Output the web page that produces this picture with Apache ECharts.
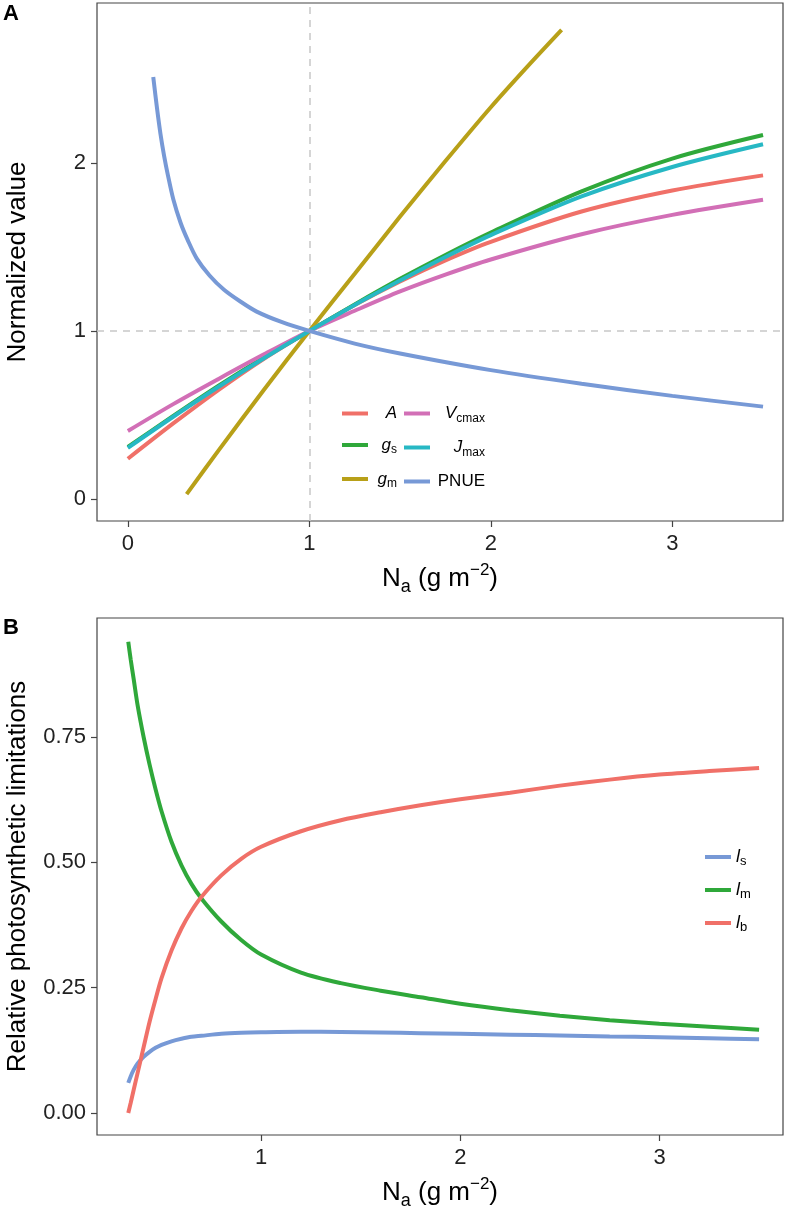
<!DOCTYPE html>
<html>
<head>
<meta charset="utf-8">
<script src="https://cdn.jsdelivr.net/npm/echarts@6/dist/echarts.min.js"></script>
<style>
  html, body { margin: 0; padding: 0; background: #fff; }
  #chart { width: 800px; height: 1208px; }
</style>
</head>
<body>
<div id="chart"></div>
<script>
// panel A: normalized values vs leaf N
const naA = [0, 0.25, 0.5, 0.75, 1, 1.25, 1.5, 1.75, 2, 2.5, 3, 3.5];
const aVals = [0.24, 0.45, 0.65, 0.835, 1.0, 1.155, 1.295, 1.42, 1.53, 1.71, 1.835, 1.925];
const gsVals = [0.31, 0.495, 0.675, 0.843, 1.0, 1.158, 1.31, 1.452, 1.585, 1.83, 2.025, 2.165];
const jmaxVals = [0.305, 0.49, 0.668, 0.838, 1.0, 1.155, 1.30, 1.44, 1.57, 1.80, 1.975, 2.11];
const vcmaxVals = [0.405, 0.565, 0.715, 0.861, 1.0, 1.12, 1.235, 1.335, 1.425, 1.575, 1.69, 1.78];
const naGm = [0.324, 0.5, 0.75, 1, 1.25, 1.5, 1.75, 2, 2.2, 2.39];
const gmVals = [0.03, 0.29, 0.65, 1.0, 1.34, 1.68, 2.01, 2.33, 2.57, 2.79];
const naPnue = [0.14, 0.16, 0.18, 0.2, 0.22, 0.25, 0.29, 0.33, 0.38, 0.45, 0.53, 0.62, 0.71, 0.85, 1, 1.25, 1.5, 2, 2.5, 3, 3.5];
const pnueVals = [2.51, 2.33, 2.17, 2.04, 1.93, 1.785, 1.645, 1.54, 1.43, 1.33, 1.245, 1.175, 1.115, 1.052, 1.0, 0.925, 0.866, 0.767, 0.686, 0.614, 0.55];

// panel B: relative limitations
const naB = [0.333, 0.345, 0.36, 0.38, 0.41, 0.44, 0.47, 0.5, 0.55, 0.6, 0.65, 0.7, 0.8, 0.9, 1.0, 1.2, 1.4, 1.6, 1.8, 2.0, 2.25, 2.5, 2.75, 3.0, 3.25, 3.5];
const lsVals = [0.060, 0.073, 0.086, 0.099, 0.112, 0.122, 0.130, 0.136, 0.143, 0.148, 0.152, 0.154, 0.158, 0.160, 0.161, 0.162, 0.1615, 0.1605, 0.1593, 0.158, 0.1563, 0.1545, 0.1527, 0.151, 0.149, 0.147];
const lmVals = [0.940, 0.905, 0.866, 0.813, 0.750, 0.695, 0.646, 0.602, 0.541, 0.494, 0.457, 0.428, 0.382, 0.345, 0.316, 0.280, 0.259, 0.244, 0.231, 0.218, 0.205, 0.194, 0.185, 0.178, 0.172, 0.166];
const lbVals = [0.000, 0.020, 0.046, 0.080, 0.131, 0.182, 0.227, 0.269, 0.324, 0.368, 0.403, 0.431, 0.474, 0.507, 0.531, 0.562, 0.584, 0.600, 0.614, 0.626, 0.639, 0.653, 0.665, 0.675, 0.682, 0.688];

// ticks
const xTicksA = [0, 1, 2, 3];
const yTicksA = [0, 1, 2];
const xTicksB = [1, 2, 3];
const yTicksB = [0, 0.25, 0.5, 0.75];

const FONT = 'Liberation Sans, Arial, Helvetica, sans-serif';
const AXIS_COL = '#444';

const zip = (xs, ys) => xs.map((x, i) => [x, ys[i]]);

const chart = echarts.init(document.getElementById('chart'));

function lineSeries(name, data, color, idx, extra) {
  return Object.assign({
    name: name,
    type: 'line',
    xAxisIndex: idx,
    yAxisIndex: idx,
    data: data,
    showSymbol: false,
    smooth: 0.3,
    lineStyle: { width: 4, color: color },
    itemStyle: { color: color }
  }, extra || {});
}

function xAxisBase(idx, min, max, ticks) {
  return {
    type: 'value', gridIndex: idx, min: min, max: max,
    splitLine: { show: false },
    axisLine: { show: false, onZero: false },
    axisTick: { show: true, length: 6, customValues: ticks, lineStyle: { color: AXIS_COL, width: 1.2 } },
    axisLabel: { customValues: ticks, margin: 12, fontSize: 22, color: '#222', fontFamily: FONT },
    name: '{n|N}{sub|a}{n| (g m}{sup|\u22122}{n|)}',
    nameLocation: 'middle',
    nameGap: 41,
    nameTextStyle: {
      fontFamily: FONT, color: '#000', fontSize: 26,
      rich: {
        n: { fontFamily: FONT, fontSize: 26, lineHeight: 34, color: '#000' },
        sub: { fontFamily: FONT, fontSize: 18, lineHeight: 34, verticalAlign: 'bottom', color: '#000' },
        sup: { fontFamily: FONT, fontSize: 17, lineHeight: 34, verticalAlign: 'top', color: '#000' }
      }
    }
  };
}

function yAxisBase(idx, min, max, ticks, name, fmt) {
  return {
    type: 'value', gridIndex: idx, min: min, max: max,
    splitLine: { show: false },
    axisLine: { show: false, onZero: false },
    axisTick: { show: true, length: 6, customValues: ticks, lineStyle: { color: AXIS_COL, width: 1.2 } },
    axisLabel: { customValues: ticks, margin: 11, fontSize: 22, color: '#222', fontFamily: FONT, formatter: fmt },
    name: name,
    nameLocation: 'middle',
    nameGap: 66,
    nameTextStyle: { fontFamily: FONT, color: '#000', fontSize: 26 }
  };
}

const richLegend = {
  i: { fontFamily: FONT, fontStyle: 'italic', fontSize: 17, lineHeight: 22, align: 'right', color: '#000' },
  s: { fontFamily: FONT, fontSize: 12, lineHeight: 22, verticalAlign: 'bottom', align: 'right', color: '#000' },
  n: { fontFamily: FONT, fontSize: 17, lineHeight: 22, align: 'right', color: '#000' }
};
const richLegendB = {
  i: { fontFamily: FONT, fontStyle: 'italic', fontSize: 18, lineHeight: 22, color: '#000' },
  s: { fontFamily: FONT, fontSize: 13, lineHeight: 22, verticalAlign: 'bottom', color: '#000' }
};
const legendLabels = {
  'A': '{i|A}',
  'gs': '{i|g}{s|s}',
  'gm': '{i|g}{s|m}',
  'Vcmax': '{i|V}{s|cmax}',
  'Jmax': '{i|J}{s|max}',
  'PNUE': '{n|PNUE}',
  'ls': '{i|l}{s|s}',
  'lm': '{i|l}{s|m}',
  'lb': '{i|l}{s|b}'
};

function legendBase(data, left, top, gap, width, rich) {
  return {
    orient: 'vertical',
    left: left, top: top,
    padding: 0,
    itemGap: gap,
    itemWidth: 26, itemHeight: 4,
    icon: 'rect',
    selectedMode: false,
    data: data,
    formatter: n => legendLabels[n],
    textStyle: Object.assign({ fontFamily: FONT, color: '#000', rich: rich }, width ? { width: width } : {})
  };
}

const option = {
  animation: false,
  backgroundColor: '#fff',
  title: [
    { text: 'A', left: 3, top: 3, padding: 0, textStyle: { fontFamily: FONT, fontWeight: 'bold', fontSize: 22, color: '#000' } },
    { text: 'B', left: 3, top: 617, padding: 0, textStyle: { fontFamily: FONT, fontWeight: 'bold', fontSize: 22, color: '#000' } }
  ],
  grid: [
    { left: 97, top: 3, width: 686, height: 518, outerBoundsMode: 'none', show: true, borderColor: AXIS_COL, borderWidth: 1.2, backgroundColor: 'transparent' },
    { left: 97, top: 618, width: 686, height: 517, outerBoundsMode: 'none', show: true, borderColor: AXIS_COL, borderWidth: 1.2, backgroundColor: 'transparent' }
  ],
  xAxis: [
    xAxisBase(0, -0.17, 3.61, xTicksA),
    xAxisBase(1, 0.176, 3.62, xTicksB)
  ],
  yAxis: [
    yAxisBase(0, -0.13, 2.95, yTicksA, 'Normalized value', v => String(v)),
    yAxisBase(1, -0.0439, 0.9874, yTicksB, 'Relative photosynthetic limitations', v => v.toFixed(2))
  ],
  legend: [
    legendBase(['A', 'gs', 'gm'], 342, 405, 14.5, 24, richLegend),
    legendBase(['Vcmax', 'Jmax', 'PNUE'], 404, 405, 14.5, 50, richLegend),
    legendBase(['ls', 'lm', 'lb'], 705, 848, 13, null, richLegendB)
  ],
  series: [
    lineSeries('A', zip(naA, aVals), '#f07068', 0, {
      markLine: {
        silent: true, symbol: 'none', label: { show: false }, z: 1,
        lineStyle: { color: '#c8c8c8', type: [7, 6], width: 1.5 },
        data: [{ xAxis: 1 }, { yAxis: 1 }]
      }
    }),
    lineSeries('gs', zip(naA, gsVals), '#2fa83a', 0),
    lineSeries('gm', zip(naGm, gmVals), '#b8a018', 0),
    lineSeries('Vcmax', zip(naA, vcmaxVals), '#d26fb6', 0),
    lineSeries('Jmax', zip(naA, jmaxVals), '#27b8c4', 0),
    lineSeries('PNUE', zip(naPnue, pnueVals), '#7799d6', 0),
    lineSeries('ls', zip(naB, lsVals), '#7799d6', 1),
    lineSeries('lm', zip(naB, lmVals), '#2fa83a', 1),
    lineSeries('lb', zip(naB, lbVals), '#f07068', 1)
  ]
};

chart.setOption(option);
</script>
</body>
</html>
